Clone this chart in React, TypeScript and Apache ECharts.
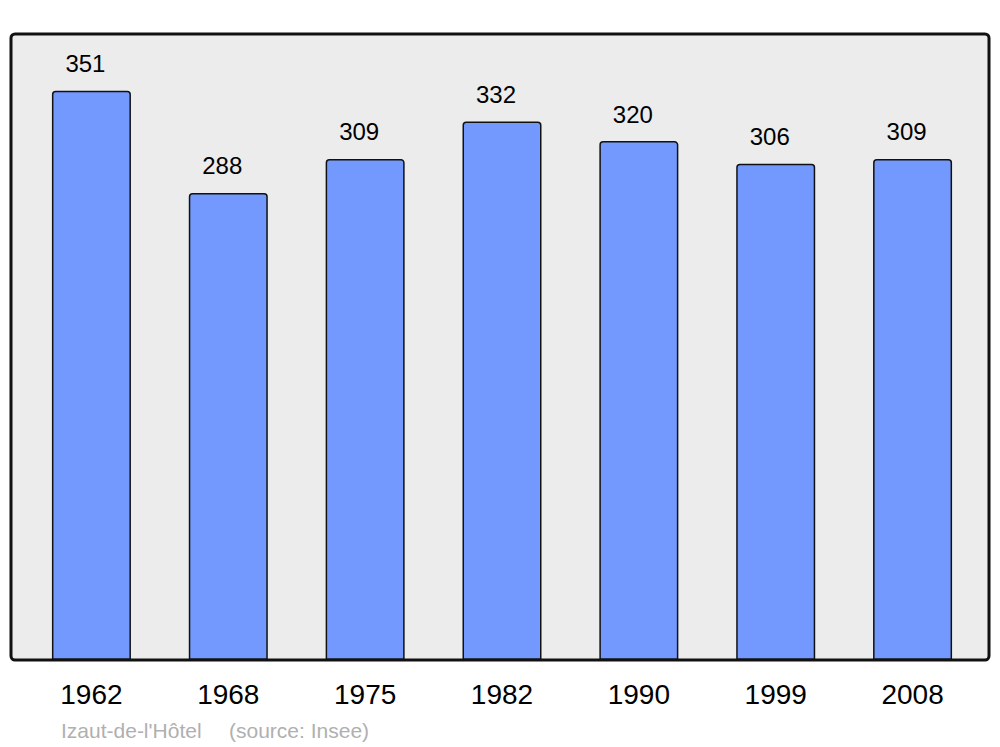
import React, { useEffect, useRef } from "react";
import * as echarts from "echarts";

const years = ["1962", "1968", "1975", "1982", "1990", "1999", "2008"];
const population = [351, 288, 309, 332, 320, 306, 309];
const placeName = "Izaut-de-l'Hôtel";
const sourceText = "(source: Insee)";

export default function App() {
  const ref = useRef<HTMLDivElement>(null);
  useEffect(() => {
    if (!ref.current) return;
    const chart = echarts.init(ref.current, null, { renderer: "svg" });
    const font = "Liberation Sans, Arial, sans-serif";
    chart.setOption({
      animation: false,
      backgroundColor: "#ffffff",
      textStyle: { fontFamily: font },
      grid: { left: 23, right: 19, top: 34, bottom: 87 },
      xAxis: {
        type: "category",
        data: years,
        boundaryGap: true,
        axisLine: { show: false },
        axisTick: { show: false },
        axisLabel: {
          color: "#000",
          fontSize: 28,
          margin: 20,
          fontFamily: font,
        },
      },
      yAxis: {
        type: "value",
        min: 0,
        max: 386,
        show: false,
        splitLine: { show: false },
      },
      graphic: [
        {
          type: "rect",
          z: -10,
          shape: { x: 11, y: 34, width: 978, height: 626, r: 4 },
          style: { fill: "#ececec", stroke: "none" },
        },
        {
          type: "rect",
          z: 100,
          shape: { x: 11, y: 34, width: 978, height: 626, r: 4 },
          style: { fill: "none", stroke: "#111", lineWidth: 3 },
        },
        {
          type: "text",
          x: 61,
          y: 730,
          style: {
            text: placeName,
            fill: "#b0b0b0",
            fontSize: 21,
            fontFamily: font,
            verticalAlign: "middle",
          },
        },
        {
          type: "text",
          x: 229,
          y: 730,
          style: {
            text: sourceText,
            fill: "#b0b0b0",
            fontSize: 21,
            fontFamily: font,
            verticalAlign: "middle",
          },
        },
      ],
      series: [
        {
          type: "bar",
          data: population,
          barWidth: 79,
          itemStyle: {
            color: "#7399ff",
            borderColor: "#111",
            borderWidth: 1.5,
            borderRadius: [3, 3, 0, 0],
          },
          label: {
            show: true,
            position: "top",
            distance: 15,
            offset: [-6, 0],
            color: "#000",
            fontSize: 24,
            fontFamily: font,
          },
        },
      ],
    });
    return () => chart.dispose();
  }, []);
  return (
    <div
      ref={ref}
      style={{ position: "fixed", left: 0, top: 0, width: 1000, height: 747 }}
    />
  );
}
